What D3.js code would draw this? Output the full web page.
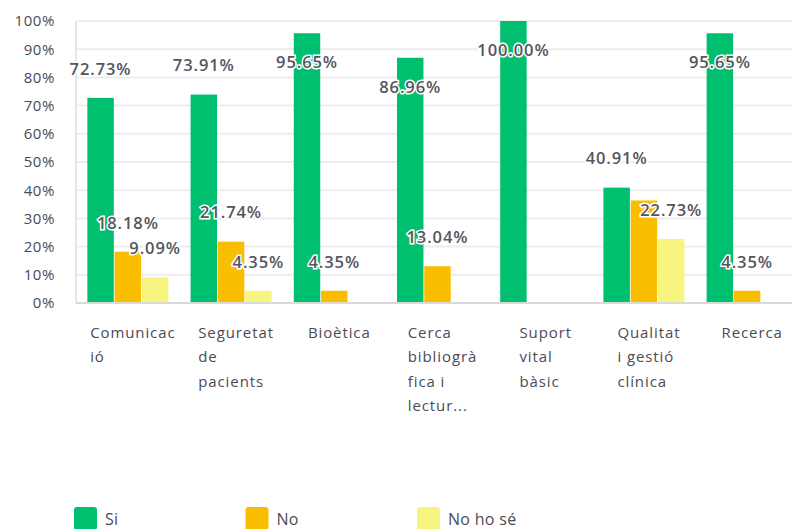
<!DOCTYPE html>
<html lang="ca">
<head>
<meta charset="UTF-8">
<title>Resultats</title>
<script src="https://d3js.org/d3.v7.min.js"></script>
<style>
    body { margin: 0; background: #fff; }
    svg { display: block; font-family: 'Open Sans', sans-serif; }
    .grid line { stroke: #ededed; stroke-width: 2; }
    .ytick text { fill: #4b4b55; font-size: 15px; letter-spacing: 0.6px; }
    .xlab { fill: #4b4b55; font-size: 15px; letter-spacing: 0.9px; }
    .val { fill: #555560; font-size: 16.5px; font-weight: 600; letter-spacing: 0.9px;
           stroke: #fff; stroke-width: 3px; paint-order: stroke; }
    .leg text { fill: #4b4b55; font-size: 16px; letter-spacing: 0.3px; }
</style>
</head>
<body>
<svg id="chart" width="792" height="529"></svg>
<script>
// categories and the wrapped tick labels as shown
const categories = ['Comunicació', 'Seguretat de pacients', 'Bioètica', 'Cerca bibliogràfica i lectura', 'Suport vital bàsic', 'Qualitat i gestió clínica', 'Recerca'];
const tickLines = [
    ['Comunicac', 'ió'],
    ['Seguretat', 'de', 'pacients'],
    ['Bioètica'],
    ['Cerca', 'bibliogrà', 'fica i', 'lectur...'],
    ['Suport', 'vital', 'bàsic'],
    ['Qualitat', 'i gestió', 'clínica'],
    ['Recerca']
];
const series = ['Si', 'No', 'No ho sé'];
const colors = ['#00bf6f', '#f9be00', '#f7f57f'];

const si     = [72.73, 73.91, 95.65, 86.96, 100.00, 40.91, 95.65];
const no     = [18.18, 21.74, 4.35, 13.04, 0, 36.36, 4.35];
const noHoSe = [9.09, 4.35, 0, 0, 0, 22.73, 0];

// the chart hid this label (it overlapped its neighbours)
const hiddenLabels = ['Qualitat i gestió clínica|No'];

const yTicks = [0, 10, 20, 30, 40, 50, 60, 70, 80, 90, 100];

const values = [si, no, noHoSe];
const svg = d3.select('#chart');
const plotLeft = 76, plotTop = 21, plotBottom = 303, plotRight = 792;

const x = d3.scaleBand().domain(categories).range([plotLeft, 799]).paddingInner(0.215).paddingOuter(0.11);
const xs = d3.scaleBand().domain(series).range([0, x.bandwidth()]).paddingInner(0.03);
const y = d3.scaleLinear().domain([0, 100]).range([plotBottom, plotTop]);

// grid
svg.append('g').attr('class', 'grid')
    .selectAll('line').data(yTicks.filter(d => d > 0)).enter().append('line')
    .attr('x1', plotLeft).attr('x2', plotRight)
    .attr('y1', d => y(d)).attr('y2', d => y(d));

// y axis labels
const yAxis = svg.append('g').attr('class', 'ytick')
    .attr('transform', `translate(${plotLeft},0)`)
    .call(d3.axisLeft(y).tickValues(yTicks).tickFormat(d => d + '%').tickSize(0).tickPadding(21));
yAxis.select('.domain').remove();
yAxis.attr('font-family', null).attr('font-size', null);

// left axis line
svg.append('line').attr('x1', plotLeft).attr('x2', plotLeft).attr('y1', plotTop).attr('y2', plotBottom)
    .attr('stroke', '#e6e6e6').attr('stroke-width', 2);

// bars
const rows = [];
categories.forEach((c, i) => series.forEach((s, j) => rows.push({ cat: c, ser: s, j: j, v: values[j][i] })));

svg.append('g').selectAll('rect').data(rows.filter(d => d.v > 0)).enter().append('rect')
    .attr('x', d => x(d.cat) + xs(d.ser))
    .attr('width', xs.bandwidth())
    .attr('y', d => y(d.v))
    .attr('height', d => plotBottom - y(d.v))
    .attr('fill', d => colors[d.j]);

svg.append('line').attr('x1', plotLeft).attr('x2', plotRight).attr('y1', plotBottom).attr('y2', plotBottom)
    .attr('stroke', '#d9d9d9').attr('stroke-width', 2);

// value labels
svg.append('g').selectAll('text')
    .data(rows.filter(d => d.v > 0 && !hiddenLabels.includes(d.cat + '|' + d.ser))).enter().append('text')
    .attr('class', 'val')
    .attr('text-anchor', 'middle')
    .attr('x', d => x(d.cat) + xs(d.ser) + xs.bandwidth() / 2)
    .attr('y', d => y(d.v) + (d.v > 80 ? 29 : -29))
    .attr('dy', '0.35em')
    .text(d => d.v.toFixed(2) + '%');

// category labels, wrapped, left aligned, block centred under the group
categories.forEach((c, i) => {
    const t = svg.append('text').attr('class', 'xlab');
    tickLines[i].forEach((ln, k) => {
        t.append('tspan').attr('y', 338 + k * 24.3).text(ln);
    });
    let w = 0;
    t.selectAll('tspan').each(function () { w = Math.max(w, this.getComputedTextLength()); });
    const x0 = x(c) + x.bandwidth() / 2 + 5 - w / 2;
    t.selectAll('tspan').attr('x', x0);
});

// legend
const leg = svg.append('g').attr('class', 'leg');
series.forEach((s, j) => {
    const g = leg.append('g').attr('transform', `translate(${74 + j * 171.5},507)`);
    g.append('rect').attr('width', 23).attr('height', 23).attr('rx', 3).attr('fill', colors[j]);
    g.append('text').attr('x', 31).attr('y', 18).text(s);
});
</script>
</body>
</html>
